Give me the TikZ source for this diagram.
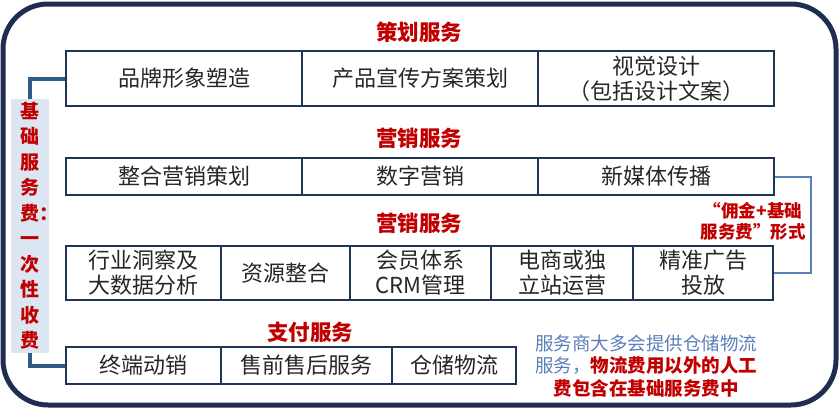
\documentclass[tikz,border=0pt]{standalone}
\usepackage{fontspec}
\newfontfamily\cjk{Noto Sans CJK SC}
\definecolor{framenavy}{HTML}{1F2D50}
\definecolor{cellnavy}{HTML}{1F3556}
\definecolor{linkblue}{HTML}{2F5B86}
\definecolor{feeblue}{HTML}{5A80B8}
\definecolor{titlered}{HTML}{C00000}
\definecolor{labelbg}{HTML}{DCE6F2}
\definecolor{noteblue}{HTML}{5B7EBA}
\tikzset{
  cell/.style={draw=cellnavy,line width=2.6pt,inner sep=0pt,align=center,
    text=black!85,font=\cjk\fontsize{22}{25}\selectfont},
  title/.style={text=titlered,font=\cjk\bfseries\fontsize{21.5}{24}\selectfont},
  link/.style={draw=linkblue,line width=4pt},
}
\begin{document}
\begin{tikzpicture}[x=1pt,y=-1pt]
  \useasboundingbox (0,0) rectangle (840,410);
  \draw[framenavy,line width=5pt,rounded corners=45pt] (3,4) rectangle (836,405);
  \draw
    (419,32) node[title] (t1){策划服务}
    (419,138) node[title] (t2){营销服务}
    (419,223) node[title] (t3){营销服务}
    (310,332) node[title] (t4){支付服务};
  \begin{scope}[every node/.append style={cell,minimum height=55pt}]
    \draw
      (184,78.5) node[minimum width=236pt] (c11){品牌形象塑造}
      (420,78.5) node[minimum width=236pt] (c12){产品宣传方案策划}
      (656,78.5) node[minimum width=236pt] (c13){视觉设计\\（包括设计文案）};
  \end{scope}
  \begin{scope}[every node/.append style={cell,minimum height=37pt}]
    \draw
      (184,176.5) node[minimum width=236pt] (c21){整合营销策划}
      (420,176.5) node[minimum width=236pt] (c22){数字营销}
      (656,176.5) node[minimum width=236pt] (c23){新媒体传播};
  \end{scope}
  \begin{scope}[every node/.append style={cell,minimum height=54pt}]
    \draw
      (143.5,273) node[minimum width=155pt] (c31){行业洞察及\\大数据分析}
      (285.5,273) node[minimum width=129pt] (c32){资源整合}
      (420.5,273) node[minimum width=141pt] (c33){会员体系\\CRM管理}
      (562,273) node[minimum width=142pt] (c34){电商或独\\立站运营}
      (703,273) node[minimum width=140pt] (c35){精准广告\\投放};
  \end{scope}
  \begin{scope}[every node/.append style={cell,minimum height=37pt}]
    \draw
      (143.5,365.5) node[minimum width=155pt] (c41){终端动销}
      (306.5,365.5) node[minimum width=171pt] (c42){售前售后服务}
      (454,365.5) node[minimum width=124pt] (c43){仓储物流};
  \end{scope}
  \node[fill=labelbg,minimum width=38pt,minimum height=254pt,inner sep=0pt,
    align=center,text=titlered,font=\cjk\bfseries\fontsize{19}{25.5}\selectfont]
    (fee) at (30,226) {基\\础\\服\\务\\费\rlap{：}\\一\\次\\性\\收\\费};
  \begin{scope}[link]
    \draw (fee.north) |- (c11.west);
    \draw (fee.south) |- (c41.west);
  \end{scope}
  \coordinate (rx) at (811,0);
  \draw[feeblue,line width=2pt] (c23.east) -- (c23.east -| rx) |- (c35.east);
  \node[align=center,text=titlered,font=\cjk\bfseries\fontsize{17.5}{21}\selectfont]
    (mix) at (753,221) {“佣金+基础\\服务费”形式};
  \node[align=center,font=\cjk\fontsize{18.5}{22.5}\selectfont,text=noteblue]
    (note) at (646,366) {服务商大多会提供仓储物流\\服务，\textcolor{titlered}{\bfseries 物流费用以外的人工}\\
    \textcolor{titlered}{\bfseries 费包含在基础服务费中}};
\end{tikzpicture}
\end{document}
